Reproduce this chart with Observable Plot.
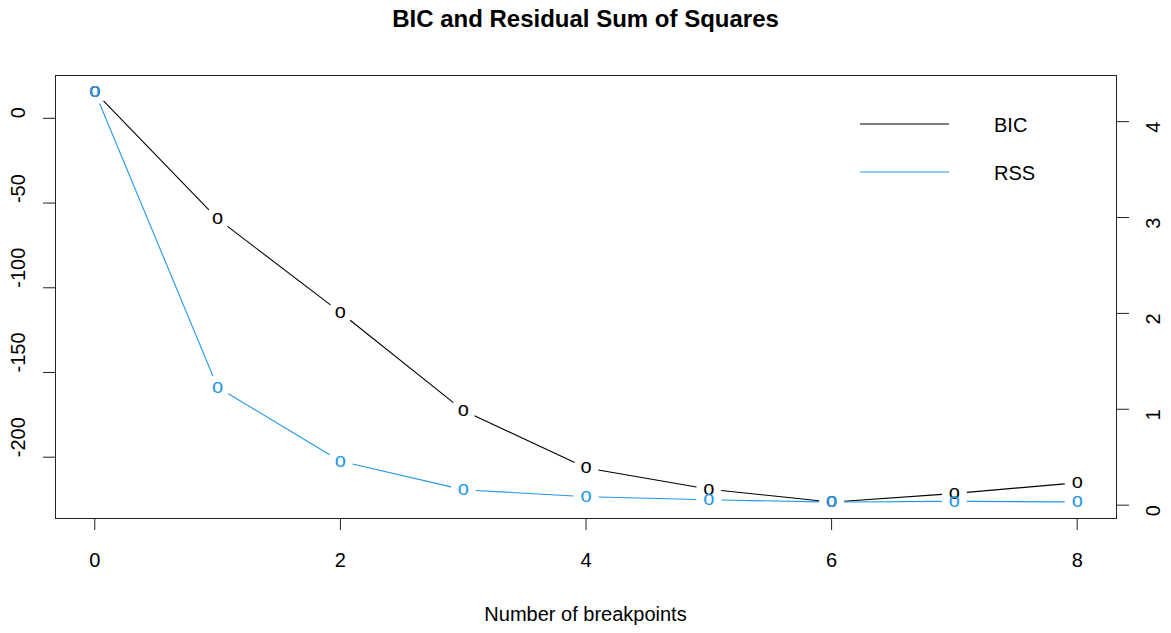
<!DOCTYPE html>
<html><head><meta charset="utf-8">
<script src="https://cdn.jsdelivr.net/npm/d3@7"></script>
<script src="https://cdn.jsdelivr.net/npm/@observablehq/plot@0.6"></script>
<style>
body{margin:0;background:#fff;}
#chart{position:relative;width:1171px;height:633px;font-family:"Liberation Sans",Arial,sans-serif;}
</style></head><body><div id="chart"></div>
<script>
const breakpoints = [0, 1, 2, 3, 4, 5, 6, 7, 8];
const bic = [15.6, -59.3, -114.6, -172.4, -206.3, -218.9, -226.5, -221.4, -215.1];
const rss = [4.31, 1.23, 0.459, 0.161, 0.088, 0.056, 0.032, 0.040, 0.034];
const xTicks = [0, 2, 4, 6, 8];
const bicTicks = [0, -50, -100, -150, -200];
const rssTicks = [0, 1, 2, 3, 4];
const seriesNames = ["BIC", "RSS"];
const seriesColors = ["#000000", "#2297E6"];
const titleText = "BIC and Residual Sum of Squares";
const xLabel = "Number of breakpoints";

const W = 1171, H = 633, mL = 55, mR = 55, mT = 75, mB = 115;
const FONT = '"Liberation Sans", Arial, sans-serif';
function ext([lo, hi]) { const e = (hi - lo) * 0.04; return [lo - e, hi + e]; }
const xDom = ext(d3.extent(breakpoints));
const yDom = ext(d3.extent(bic));
const rDom = ext(d3.extent(rss));
const r2y = d3.scaleLinear().domain(rDom).range(yDom);

const pts = [
  ...breakpoints.map((b, i) => ({x: b, y: bic[i], s: "BIC"})),
  ...breakpoints.map((b, i) => ({x: b, y: r2y(rss[i]), s: "RSS"}))
];

// R type="b": segments with gaps around the points
const iw = W - mL - mR, ih = H - mT - mB, GAP = 12.5;
function segs(ys, s) {
  const out = [];
  for (let i = 0; i < ys.length - 1; i++) {
    const x1 = breakpoints[i], x2 = breakpoints[i + 1], y1 = ys[i], y2 = ys[i + 1];
    const dx = (x2 - x1) / (xDom[1] - xDom[0]) * iw, dy = (y2 - y1) / (yDom[1] - yDom[0]) * ih;
    const L = Math.hypot(dx, dy);
    if (L <= 2 * GAP) continue;
    const t = GAP / L;
    out.push({x1: x1 + t * (x2 - x1), y1: y1 + t * (y2 - y1), x2: x2 - t * (x2 - x1), y2: y2 - t * (y2 - y1), s});
  }
  return out;
}
const segments = [...segs(bic, "BIC"), ...segs(rss.map(r2y), "RSS")];

const chart = Plot.plot({
  width: W, height: H,
  marginLeft: mL, marginRight: mR, marginTop: mT, marginBottom: mB,
  style: {fontFamily: FONT, fontSize: "20px", background: "white", color: "black"},
  x: {domain: xDom, axis: null},
  y: {domain: yDom, axis: null},
  color: {domain: seriesNames, range: seriesColors},
  marks: [
    Plot.frame({stroke: "#222", strokeWidth: 1}),
    Plot.link(segments, {x1: "x1", y1: "y1", x2: "x2", y2: "y2", stroke: "s", strokeWidth: 1.1}),
    Plot.text(pts, {x: "x", y: "y", text: () => "o", fill: "s", fontSize: 20, dy: -1}),
    Plot.axisX({ticks: xTicks, tickSize: 12, tickPadding: 22, label: null, fontSize: 20, tickFormat: d => String(d), stroke: "#222"}),
    Plot.axisY({ticks: bicTicks, anchor: "left", tickSize: 12, tickFormat: () => "", label: null, stroke: "#222"}),
    Plot.axisY({ticks: rssTicks.map(r2y), anchor: "right", tickSize: 12, tickFormat: () => "", label: null, stroke: "#222"}),
    Plot.text(bicTicks, {y: d => d, frameAnchor: "left", dx: -37, rotate: -90, text: d => String(d), fontSize: 20, fill: "black"}),
    Plot.text(rssTicks, {y: d => r2y(d), frameAnchor: "right", dx: 37, rotate: -90, text: d => String(d), fontSize: 20, fill: "black"})
  ]
});
document.getElementById("chart").appendChild(chart);

const svg = d3.select(chart);
svg.append("text").attr("x", mL + iw / 2).attr("y", 26.5).attr("text-anchor", "middle")
  .attr("font-family", FONT).attr("font-weight", "bold").attr("font-size", 24).attr("fill", "black").text(titleText);
svg.append("text").attr("x", mL + iw / 2).attr("y", 621).attr("text-anchor", "middle")
  .attr("font-family", FONT).attr("font-size", 20).attr("fill", "black").text(xLabel);
// legend (bty = "n")
const lg = svg.append("g");
seriesNames.forEach((name, i) => {
  const yy = 124 + i * 48;
  lg.append("line").attr("x1", 860).attr("x2", 949).attr("y1", yy).attr("y2", yy)
    .attr("stroke", seriesColors[i]).attr("stroke-width", 1.2);
  lg.append("text").attr("x", 994).attr("y", yy + 8).attr("text-anchor", "start")
    .attr("font-family", FONT).attr("font-size", 20).attr("fill", "black").text(name);
});
</script></body></html>
